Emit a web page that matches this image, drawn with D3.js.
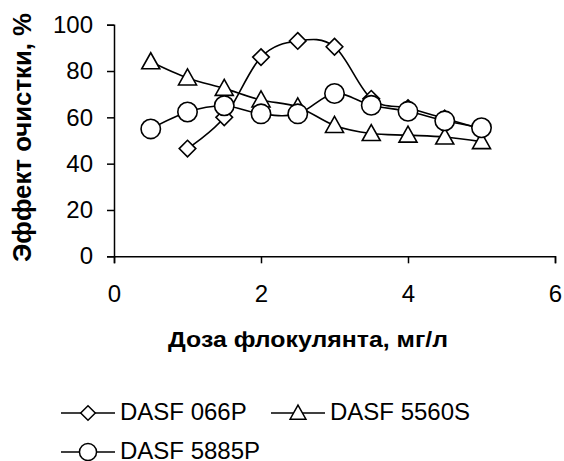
<!DOCTYPE html>
<html>
<head>
<meta charset="utf-8">
<script src="https://cdn.jsdelivr.net/npm/d3@7"></script>
<style>
	body { margin: 0; background: #fff; }
	text { font-family: Arial, "Liberation Sans", sans-serif; fill: #000; }
</style>
</head>
<body>
<svg></svg>
<script>
const doses = [0.5, 1, 1.5, 2, 2.5, 3, 3.5, 4, 4.5, 5];
const names = ['DASF 066P', 'DASF 5560S', 'DASF 5885P'];
const s066P = [null, 46.5, 60, 86, 93, 90.5, 68, 64, 59.5, 55];
const s5560S = [84, 77, 72.5, 67.5, 64.5, 56.5, 53, 52.3, 51.5, 49.5];
const s5885P = [55, 62.3, 65, 61.5, 61.5, 70.3, 65.2, 62.6, 58.5, 55.5];
const xTicks = [0, 2, 4, 6];
const yTicks = [0, 20, 40, 60, 80, 100];

const width = 564;
const height = 461;

const svg = d3.select('svg')
	.attr('width', width)
	.attr('height', height);

const x = d3.scaleLinear().domain([0, 6]).range([114, 555]);
const y = d3.scaleLinear().domain([0, 100]).range([256.3, 24.7]);

// axes
const xAxis = svg.append('g')
	.attr('transform', `translate(0,${y(0)})`)
	.call(d3.axisBottom(x).tickValues(xTicks).tickFormat(d3.format('d')).tickSize(7).tickPadding(22));
const yAxis = svg.append('g')
	.attr('transform', `translate(${x(0)},0)`)
	.call(d3.axisLeft(y).tickValues(yTicks).tickFormat(d3.format('d')).tickSize(7).tickPadding(14));
[xAxis, yAxis].forEach(g => {
	g.select('.domain').attr('stroke', '#000').attr('stroke-width', 1.5);
	g.selectAll('.tick line').attr('stroke', '#000').attr('stroke-width', 1.5);
	g.selectAll('.tick text')
		.attr('font-size', 24)
		.attr('font-family', 'Arial, "Liberation Sans", sans-serif')
		.attr('fill', '#000');
});

svg.append('text')
	.attr('x', 308)
	.attr('y', 347)
	.attr('text-anchor', 'middle')
	.attr('font-size', 22)
	.attr('font-weight', 'bold')
	.attr('textLength', 280)
	.attr('lengthAdjust', 'spacingAndGlyphs')
	.text('Доза флокулянта, мг/л');

svg.append('text')
	.attr('transform', 'translate(31,137.5) rotate(-90)')
	.attr('text-anchor', 'middle')
	.attr('font-size', 25)
	.attr('font-weight', 'bold')
	.attr('textLength', 249)
	.attr('lengthAdjust', 'spacingAndGlyphs')
	.text('Эффект очистки, %');

// markers
function marker(g, type, sw) {
	if (type === 'diamond') {
		g.append('path').attr('d', 'M0,-8.3L8.3,0L0,8.3L-8.3,0Z');
	} else if (type === 'triangle') {
		g.append('path').attr('d', 'M0,-9L9,7L-9,7Z');
	} else {
		g.append('circle').attr('r', 9.7);
	}
	g.selectAll('path, circle')
		.attr('fill', '#fff')
		.attr('stroke', '#000')
		.attr('stroke-width', sw);
}

const series = [
	{name: names[0], values: s066P, type: 'diamond'},
	{name: names[1], values: s5560S, type: 'triangle'},
	{name: names[2], values: s5885P, type: 'circle'}
];

const line = d3.line()
	.x(d => x(d[0]))
	.y(d => y(d[1]))
	.curve(d3.curveCardinal.tension(0));

series.forEach(s => {
	const pts = doses.map((d, i) => [d, s.values[i]]).filter(p => p[1] !== null);
	const g = svg.append('g');
	g.append('path')
		.datum(pts)
		.attr('d', line)
		.attr('fill', 'none')
		.attr('stroke', '#000')
		.attr('stroke-width', 1.6);
	pts.forEach(p => {
		marker(g.append('g').attr('transform', `translate(${x(p[0])},${y(p[1])})`), s.type, 1.6);
	});
});

// legend
const legendPos = [[61, 413], [271, 413], [61, 452]];
series.forEach((s, i) => {
	const [lx, ly] = legendPos[i];
	const g = svg.append('g');
	g.append('line')
		.attr('x1', lx).attr('x2', lx + 54)
		.attr('y1', ly).attr('y2', ly)
		.attr('stroke', '#000').attr('stroke-width', 1.5);
	const m = g.append('g').attr('transform', `translate(${lx + 27},${ly}) scale(0.88)`);
	marker(m, s.type, 1.5 / 0.88);
	g.append('text')
		.attr('x', lx + 59)
		.attr('y', ly + 6.5)
		.attr('font-size', 24)
		.text(s.name);
});
</script>
</body>
</html>
